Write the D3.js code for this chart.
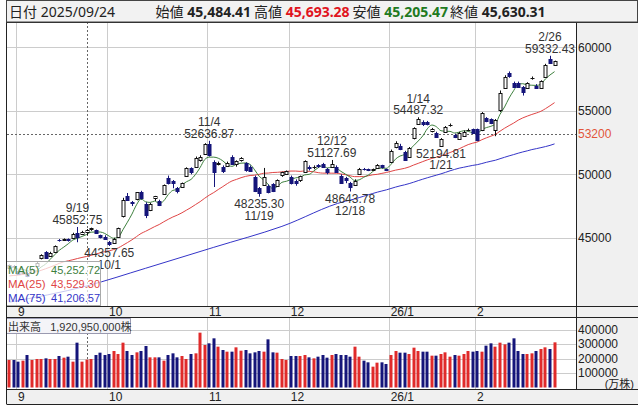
<!DOCTYPE html>
<html>
<head>
<meta charset="utf-8">
<script src="https://cdn.jsdelivr.net/npm/d3@7"></script>
<style>
body { margin: 0; background: #fff; }
svg text { font-family: "Liberation Sans", "Noto Sans CJK JP", sans-serif; }
svg .head text { font-family: "Noto Sans", "Noto Sans CJK JP", sans-serif; }
</style>
</head>
<body>
<div id="chart"></div>
<script>
// Step 0: data (Nikkei 225 daily)
//= ================================
var dates = [
  "2025/08/28","2025/08/29",
  "2025/09/01","2025/09/02","2025/09/03","2025/09/04","2025/09/05","2025/09/08","2025/09/09","2025/09/10","2025/09/11","2025/09/12",
  "2025/09/16","2025/09/17","2025/09/18","2025/09/19","2025/09/22","2025/09/24","2025/09/25","2025/09/26","2025/09/29","2025/09/30",
  "2025/10/01","2025/10/02","2025/10/03","2025/10/06","2025/10/07","2025/10/08","2025/10/09","2025/10/10","2025/10/14","2025/10/15",
  "2025/10/16","2025/10/17","2025/10/20","2025/10/21","2025/10/22","2025/10/23","2025/10/24","2025/10/27","2025/10/28","2025/10/29",
  "2025/10/30","2025/10/31",
  "2025/11/04","2025/11/05","2025/11/06","2025/11/07","2025/11/10","2025/11/11","2025/11/12","2025/11/13","2025/11/14","2025/11/17",
  "2025/11/18","2025/11/19","2025/11/20","2025/11/21","2025/11/25","2025/11/26","2025/11/27","2025/11/28",
  "2025/12/01","2025/12/02","2025/12/03","2025/12/04","2025/12/05","2025/12/08","2025/12/09","2025/12/10","2025/12/11","2025/12/12",
  "2025/12/15","2025/12/16","2025/12/17","2025/12/18","2025/12/19","2025/12/22","2025/12/23","2025/12/24","2025/12/25","2025/12/26",
  "2025/12/29","2025/12/30",
  "2026/01/05","2026/01/06","2026/01/07","2026/01/08","2026/01/09","2026/01/13","2026/01/14","2026/01/15","2026/01/16","2026/01/19",
  "2026/01/20","2026/01/21","2026/01/22","2026/01/23","2026/01/26","2026/01/27","2026/01/28","2026/01/29","2026/01/30",
  "2026/02/02","2026/02/03","2026/02/04","2026/02/05","2026/02/06","2026/02/09","2026/02/10","2026/02/12","2026/02/13","2026/02/16",
  "2026/02/17","2026/02/18","2026/02/19","2026/02/20","2026/02/24","2026/02/25","2026/02/26","2026/02/27"
];

var opens = [
  42600, 42750,
  42400, 42250, 42200, 42300, 42800, 43400, 43900, 43600, 43900, 44800,
  44850, 44900, 45000, 45400, 45350, 45484.41, 45700, 45600, 45200, 45100,
  44700, 44650, 45100, 46700, 48300, 47800, 48000, 48600, 47700, 47200,
  48100, 47900, 48500, 49700, 49500, 48900, 49000, 49900, 50500, 50600,
  51100, 51600,
  52400, 51000, 50800, 50600, 50700, 51400, 50800, 51100, 50900, 50600,
  49800, 48900, 49200, 49100, 49200, 49100, 49900, 50000,
  49800, 49500, 49550, 50200, 50600, 50550, 50700, 50800, 50400, 50600,
  50600, 49900, 49700, 49300, 49200, 50000, 50450, 50400, 50350, 50500,
  50700, 50400,
  51000, 52150, 52230, 51780, 51390, 52830, 53940, 54140, 54100, 53350,
  53280, 52230, 53350, 53850, 53090, 52830, 53020, 53480, 53540,
  53540, 53490, 54410, 54330, 53490, 55060, 56850, 57950, 57210, 57200,
  56900, 56800, 57560, 56980, 56800, 57690, 59060, 58580
];

var highs = [
  42900, 42850,
  42450, 42400, 42300, 42600, 43100, 43700, 43950, 43900, 44400, 44900,
  44950, 44950, 45400, 45852.75, 45550, 45693.28, 45800, 45650, 45250, 45200,
  44750, 45000, 45800, 48150, 48527, 47900, 48600, 48700, 47800, 47750,
  48300, 48000, 49200, 49900, 49550, 49000, 49350, 50550, 50550, 51400,
  51500, 52450,
  52636.87, 51100, 51000, 50700, 51000, 51500, 51100, 51350, 50950, 50700,
  49900, 49000, 50500, 49200, 49300, 49600, 50200, 50300,
  49900, 49600, 49900, 51100, 50700, 50700, 50800, 50900, 50500, 51127.69,
  50700, 50000, 49800, 49400, 49600, 50500, 50500, 50450, 50450, 50800,
  50750, 50450,
  51950, 52600, 52400, 51850, 52150, 53700, 54487.32, 54250, 54200, 53650,
  53350, 52850, 53800, 54000, 53200, 53350, 53450, 53600, 53600,
  53600, 54900, 54500, 54400, 54350, 56600, 57800, 58100, 57300, 57300,
  56950, 57250, 57700, 57100, 57400, 58700, 59332.43, 58950
];

var lows = [
  42550, 42600,
  42100, 42150, 41900, 42200, 42750, 43300, 43400, 43500, 43850, 44700,
  44750, 44700, 44950, 44650, 45300, 45205.47, 45550, 45300, 44950, 44850,
  44357.65, 44600, 45050, 46600, 47900, 47500, 47950, 48000, 46550, 47100,
  47900, 47500, 48400, 49200, 48900, 48500, 48950, 49850, 50000, 50550,
  51000, 51550,
  51400, 49000, 50700, 50100, 50600, 50800, 50600, 51000, 50200, 50200,
  48600, 48235.30, 49150, 48500, 48600, 49000, 49800, 49950,
  49200, 49100, 49400, 50100, 50300, 50400, 50500, 50500, 50000, 50600,
  50100, 49300, 49300, 48643.78, 49100, 49950, 50300, 50250, 50300, 50450,
  50450, 50250,
  50900, 52050, 51900, 51050, 51300, 52750, 53900, 53800, 53850, 53300,
  52900, 52194.81, 53300, 53750, 52850, 52750, 52950, 53400, 53200,
  52600, 53400, 54100, 53950, 53000, 54900, 56800, 57600, 56850, 56850,
  56200, 56750, 57450, 56750, 56750, 57650, 58700, 58550
];

var closes = [
  42828.79, 42718.47,
  42188.79, 42310.49, 41938.89, 42580.27, 43018.75, 43643.81, 43459.29, 43837.67, 44372.50, 44768.12,
  44902.27, 44790.38, 45303.43, 45045.81, 45493.66, 45630.31, 45754.93, 45354.99, 45043.75, 44932.63,
  44550.85, 44936.73, 45769.50, 47944.76, 47950.88, 47734.99, 48580.44, 48088.80, 46847.32, 47672.67,
  48277.74, 47582.15, 49185.50, 49316.06, 49307.79, 48641.61, 49299.65, 50512.32, 50219.18, 51307.65,
  51325.61, 52411.34,
  51497.20, 50212.27, 50883.68, 50276.37, 50911.76, 50842.93, 51063.31, 51281.83, 50376.53, 50323.91,
  48702.98, 48537.70, 49823.94, 48625.88, 48659.52, 49559.07, 50167.10, 50253.91,
  49303.28, 49303.45, 49864.68, 51028.42, 50491.87, 50581.94, 50655.10, 50602.80, 50148.82, 50836.55,
  50168.11, 49383.29, 49512.28, 49001.50, 49507.21, 50402.39, 50412.87, 50344.10, 50407.79, 50750.39,
  50526.92, 50339.48,
  51860, 52500, 51970, 51130, 52070, 53620, 54330, 53960, 53940, 53540,
  52960, 52760, 53750, 53880, 52910, 53270, 53350, 53500, 53250,
  52700, 54800, 54140, 54020, 54280, 56370, 57690, 57690, 56900, 56890,
  56500, 57190, 57590, 56820, 57350, 58610, 58740, 58900
];

// volume in 万株
var volumes = [
  189700, 189700,
  178200, 185100, 224100, 189700, 196600, 196600, 201100, 196600, 196600, 217200,
  205700, 212600, 178200, 309200, 178200, 192095, 196600, 224100, 240200, 224100,
  231000, 251700, 231000, 309200, 251700, 224100, 242500, 251700, 286200, 208000,
  208000, 208000, 185100, 224100, 235600, 208000, 217200, 196600, 231000, 235600,
  378200, 293100,
  304600, 339100, 281600, 258600, 247100, 247100, 277000, 254000, 258600, 235600,
  242500, 251700, 247100, 332200, 242500, 240200, 196600, 189700,
  217200, 217200, 217200, 224100, 208000, 201100, 212600, 224100, 205700, 224100,
  231000, 224100, 224100, 212600, 281600, 212600, 185100, 173600, 143700, 171300,
  173600, 162100,
  224100, 251700, 240200, 240200, 231000, 274700, 251700, 247100, 247100, 219500,
  219500, 231000, 242500, 212600, 224100, 219500, 231000, 251700, 247100,
  251700, 247100, 288500, 304600, 281600, 309200, 297700, 309200, 339100, 251700,
  231000, 231000, 235600, 251700, 265500, 277000, 265500, 311500
];

// closes before the first visible day (2025/07/24 - 2025/08/27), only for the moving averages
var priorCloses = [
  41826.34, 41456.23, 40998.27, 40674.55, 40654.70, 41069.82, 40799.60, 40290.70, 40549.54, 40794.86,
  41059.15, 41820.48, 42718.17, 43274.67, 42649.26, 43378.31, 43714.31, 43546.29, 42888.55, 42610.17,
  42633.29, 42807.82, 42394.40, 42520.27
];

var ma75Dates = ["2025/08/28", "2025/09/24", "2025/10/14", "2025/11/05", "2025/11/27"];
var ma75Values = [39930, 41206.57, 42600, 44250, 45900];

var priceTicks = [45000, 50000, 55000, 60000];
var volumeTicks = [100000, 200000, 300000, 400000];
var monthLabels = ["9", "10", "11", "12", "26/1", "2"];
var highMarks = ["2025/09/19", "2025/11/04", "2025/12/12", "2026/01/14", "2026/02/26"];
var lowMarks = ["2025/10/01", "2025/11/19", "2025/12/18", "2026/01/21"];
var crossDate = "2025/09/24";
var crossPrice = 53200;

// Step 1: set up the svg
//= ================================
var svgWidth = 638;
var svgHeight = 407;
var left = 7, right = 576;
var mainTop = 22, mainBottom = 306;
var volTop = 317, volBottom = 389;

var svg = d3.select("#chart").append("svg")
  .attr("width", svgWidth)
  .attr("height", svgHeight);

var defs = svg.append("defs");
defs.append("clipPath").attr("id", "clipMain").append("rect")
  .attr("x", left).attr("y", mainTop).attr("width", right - left).attr("height", mainBottom - mainTop);
defs.append("clipPath").attr("id", "clipVol").append("rect")
  .attr("x", left).attr("y", volTop).attr("width", right - left).attr("height", volBottom - volTop);

// slot scale: one slot per trading day, 125 slots across the plot
var xScale = d3.scaleLinear().domain([0, 125]).range([left, 575]);
var xMid = function(i) { return xScale(i + 0.5); };
var yScale = d3.scaleLinear().domain([45000, 60000]).range([237.8, 47.3]);
var vScale = d3.scaleLinear().domain([0, 400000]).range([387.5, 329.5]);

var n = dates.length;
var idx = d3.range(n);
var crossI = dates.indexOf(crossDate);

// moving averages
var allCloses = priorCloses.concat(closes);
var off = priorCloses.length;
function sma(period, i) {
  var j = i + off;
  if (j - period + 1 < 0) return null;
  return d3.mean(allCloses.slice(j - period + 1, j + 1));
}
var ma5 = idx.map(function(i) { return sma(5, i); });
var ma25 = idx.map(function(i) { return sma(25, i); });
var ma75 = idx.map(function(i) {
  var k = ma75Dates.indexOf(dates[i]);
  if (k >= 0) return ma75Values[k];
  if (i >= 74) return d3.mean(closes.slice(i - 74, i + 1));
  return null;
});

// month starts
var monthStarts = [];
dates.forEach(function(d, i) {
  if (i > 0 && d.slice(0, 7) !== dates[i - 1].slice(0, 7)) monthStarts.push(i);
});

// Step 2: panels and grid
//= ================================
var grayBg = "#f0f0f0";
svg.append("rect").attr("x", right).attr("y", mainTop).attr("width", svgWidth - right).attr("height", volBottom - mainTop).attr("fill", grayBg);
svg.append("rect").attr("x", left).attr("y", mainBottom).attr("width", svgWidth - left).attr("height", volTop - mainBottom).attr("fill", grayBg);
svg.append("rect").attr("x", left).attr("y", volBottom).attr("width", svgWidth - left).attr("height", 15).attr("fill", grayBg);

var grid = svg.append("g").attr("stroke", "#cccccc").attr("stroke-width", 1);
priceTicks.forEach(function(p) {
  var yy = Math.round(yScale(p)) + 0.5;
  grid.append("line").attr("x1", left).attr("x2", right).attr("y1", yy).attr("y2", yy);
});
volumeTicks.forEach(function(v) {
  var yy = Math.round(vScale(v)) + 0.5;
  grid.append("line").attr("x1", left).attr("x2", right).attr("y1", yy).attr("y2", yy);
});
monthStarts.forEach(function(i) {
  var xx = Math.round(xScale(i)) + 0.5;
  grid.append("line").attr("x1", xx).attr("x2", xx).attr("y1", mainTop).attr("y2", mainBottom);
  grid.append("line").attr("x1", xx).attr("x2", xx).attr("y1", volTop).attr("y2", volBottom);
});

// crosshair
var cx = Math.round(xMid(crossI)) + 0.5;
var cy = Math.round(yScale(crossPrice)) + 0.5;
var cross = svg.append("g").attr("stroke", "#666").attr("stroke-dasharray", "2,2");
cross.append("line").attr("x1", cx).attr("x2", cx).attr("y1", mainTop).attr("y2", mainBottom);
cross.append("line").attr("x1", cx).attr("x2", cx).attr("y1", volTop).attr("y2", volBottom);
cross.append("line").attr("x1", left).attr("x2", right).attr("y1", cy).attr("y2", cy);

// Step 3: moving averages and candles
//= ================================
var main = svg.append("g").attr("clip-path", "url(#clipMain)");

function maLine(values, color) {
  var pts = idx.filter(function(i) { return values[i] != null; });
  main.append("path")
    .datum(pts)
    .attr("fill", "none")
    .attr("stroke", color)
    .attr("stroke-width", 1)
    .attr("d", d3.line().curve(d3.curveMonotoneX)
      .x(function(i) { return xMid(i); })
      .y(function(i) { return yScale(values[i]); }));
}
maLine(ma75, "#3535c8");
maLine(ma25, "#e04545");
maLine(ma5, "#3d803d");

var navy = "#15157a";
var up = function(i) { return closes[i] >= opens[i]; };

main.selectAll(".wick").data(idx).enter().append("line")
  .attr("class", "wick")
  .attr("x1", function(i) { return Math.round(xMid(i)) + 0.5; })
  .attr("x2", function(i) { return Math.round(xMid(i)) + 0.5; })
  .attr("y1", function(i) { return yScale(highs[i]); })
  .attr("y2", function(i) { return yScale(lows[i]); })
  .attr("stroke", function(i) { return up(i) ? "#111" : navy; });

main.selectAll(".body").data(idx).enter().append("rect")
  .attr("class", "body")
  .attr("x", function(i) { return Math.round(xMid(i)) - 1; })
  .attr("width", 3)
  .attr("y", function(i) { return Math.round(yScale(Math.max(opens[i], closes[i]))) + 0.5; })
  .attr("height", function(i) { return Math.max(0.01, Math.round(Math.abs(yScale(opens[i]) - yScale(closes[i])))); })
  .attr("fill", function(i) { return up(i) ? "#fff" : navy; })
  .attr("stroke", function(i) { return up(i) ? "#111" : navy; });

// high / low marks
var fmtP = d3.format(".2f");
var md = function(d) { return +d.slice(5, 7) + "/" + +d.slice(8, 10); };
var marks = svg.append("g").attr("fill", "#333").attr("font-size", "12px").attr("text-anchor", "middle");
highMarks.forEach(function(d) {
  var i = dates.indexOf(d), hy = yScale(highs[i]);
  marks.append("text").attr("x", xMid(i)).attr("y", hy - 14.5).text(md(d));
  marks.append("text").attr("x", xMid(i)).attr("y", hy - 3).text(fmtP(highs[i]));
});
lowMarks.forEach(function(d) {
  var i = dates.indexOf(d), ly = yScale(lows[i]);
  marks.append("text").attr("x", xMid(i)).attr("y", ly + 11.5).text(fmtP(lows[i]));
  marks.append("text").attr("x", xMid(i)).attr("y", ly + 23).text(md(d));
});

// MA legend
var fmt2 = d3.format(",.2f");
var legend = svg.append("g");
legend.append("rect").attr("x", 6.5).attr("y", 261.5).attr("width", 94).attr("height", 44)
  .attr("fill", "#fff").attr("fill-opacity", 0.72).attr("stroke", "#aaa");
var legendRows = [
  ["MA(5)", ma5[crossI], "#3d803d"],
  ["MA(25)", ma25[crossI], "#e04545"],
  ["MA(75)", ma75[crossI], "#3535c8"]
];
legendRows.forEach(function(r, k) {
  var ty = 274 + k * 14;
  legend.append("text").attr("x", 8).attr("y", ty).attr("fill", r[2]).attr("font-size", "11.5px").text(r[0]);
  legend.append("text").attr("x", 100).attr("y", ty).attr("fill", r[2]).attr("font-size", "11px")
    .attr("text-anchor", "end").text(fmt2(r[1]));
});

// Step 4: volume
//= ================================
var vol = svg.append("g").attr("clip-path", "url(#clipVol)");
vol.selectAll(".vbar").data(idx).enter().append("rect")
  .attr("class", "vbar")
  .attr("x", function(i) { return Math.round(xMid(i)) - 1.5; })
  .attr("width", 3)
  .attr("y", function(i) { return vScale(volumes[i]); })
  .attr("height", function(i) { return vScale(0) - vScale(volumes[i]); })
  .attr("fill", function(i) { return up(i) ? "#e02a2a" : navy; });

var vbox = svg.append("g");
vbox.append("rect").attr("x", 6.5).attr("y", 318.5).attr("width", 124).attr("height", 15)
  .attr("fill", "#f4f4f8").attr("stroke", "#9a9ab0");
vbox.append("text").attr("x", 8).attr("y", 330.5).attr("font-size", "11px").attr("fill", "#333")
  .text("出来高\u00a0\u00a0\u00a0" + d3.format(",")(volumes[crossI] * 10000) + "株");

// Step 5: axes labels and frame
//= ================================
var axisText = svg.append("g").attr("fill", "#222").attr("font-size", "12px");
priceTicks.forEach(function(p) {
  axisText.append("text").attr("x", 578).attr("y", yScale(p)).attr("dy", "0.36em").text(p);
});
axisText.append("text").attr("x", 578).attr("y", yScale(crossPrice)).attr("dy", "0.36em")
  .attr("fill", "#e2553a").text(crossPrice);
volumeTicks.forEach(function(v) {
  axisText.append("text").attr("x", 578).attr("y", vScale(v)).attr("dy", "0.36em").text(v);
});
axisText.append("text").attr("x", 634).attr("y", 388).attr("text-anchor", "end").attr("font-size", "11px").text("(万株)");

monthStarts.forEach(function(i, k) {
  var xx = xScale(i) + 2;
  axisText.append("text").attr("x", xx).attr("y", 316).text(monthLabels[k]);
  axisText.append("text").attr("x", xx).attr("y", 401).text(monthLabels[k]);
});

var frame = svg.append("g").attr("stroke", "#222").attr("fill", "none");
frame.append("line").attr("x1", 6.5).attr("x2", 6.5).attr("y1", 0).attr("y2", 404);
frame.append("line").attr("x1", right + 0.5).attr("x2", right + 0.5).attr("y1", mainTop).attr("y2", volBottom);
[mainTop, mainBottom, volTop, volBottom, 404].forEach(function(yy) {
  frame.append("line").attr("x1", 6.5).attr("x2", svgWidth).attr("y1", yy + 0.5).attr("y2", yy + 0.5);
});

// header
var head = svg.append("g").attr("class", "head").attr("font-size", "14px");
head.append("rect").attr("x", 6.5).attr("y", 0.5).attr("width", 631).attr("height", 21.5)
  .attr("fill", "#f2f2f2").attr("stroke", "#444");
head.append("text").attr("x", 9).attr("y", 16.5).attr("fill", "#222")
  .text("日付 " + crossDate);
var fields = [
  ["始値", opens[crossI], "#222", 155.5],
  ["高値", highs[crossI], "#e0141e", 254],
  ["安値", lows[crossI], "#1f7a1f", 352.5],
  ["終値", closes[crossI], "#222", 450]
];
fields.forEach(function(f) {
  var t = head.append("text").attr("x", f[3]).attr("y", 16.5).attr("fill", "#222");
  t.append("tspan").text(f[0] + " ");
  t.append("tspan").attr("font-weight", "bold").attr("fill", f[2]).text(fmt2(f[1]));
});
</script>
</body>
</html>
